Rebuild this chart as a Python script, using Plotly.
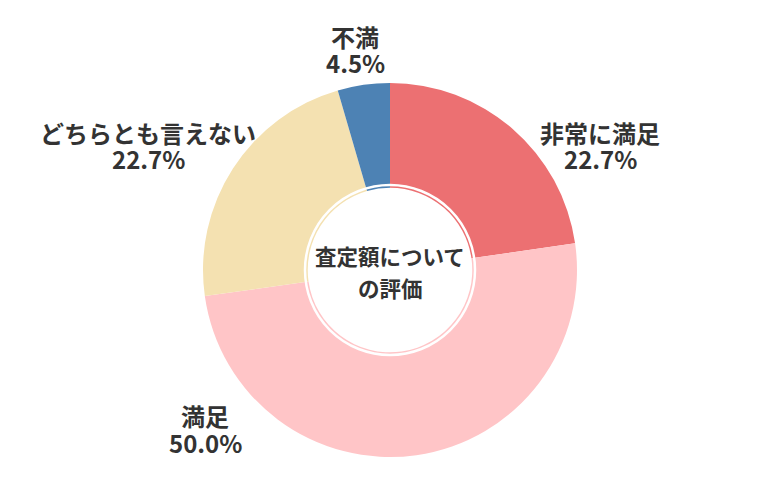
import plotly.graph_objects as go

categories = ["非常に満足", "満足", "どちらとも言えない", "不満"]
values = [22.7, 50.0, 22.7, 4.5]
colors = ["#EC7072", "#FFC5C7", "#F4E1B1", "#4D82B4"]
center_lines = ["査定額について", "の評価"]

W, H = 780, 500
CX, CY, R = 390, 270, 187

def px(x, y):
    return x / W, 1 - y / H

fig = go.Figure()
fig.add_trace(go.Pie(
    labels=categories,
    values=values,
    sort=False,
    direction="clockwise",
    rotation=0,
    hole=0.44,
    marker=dict(colors=colors, line=dict(width=0)),
    textinfo="none",
    hoverinfo="skip",
    showlegend=False,
    domain=dict(x=[(CX - R) / W, (CX + R) / W],
                y=[1 - (CY + R) / H, 1 - (CY - R) / H]),
))

# label anchor positions (pixel centres): name line, percent line
name_pos = [(600, 132), (205, 415), (148, 132), (355, 37)]
pct_pos = [(600, 158), (205, 442), (148, 158), (355, 62)]
font = dict(family="Noto Sans CJK JP", size=24, color="#333333")
annotations = []

def add_text(text, x, y, f):
    ax, ay = px(x, y)
    annotations.append(dict(
        x=ax, y=ay, xref="paper", yref="paper",
        text=f"<b>{text}</b>", showarrow=False,
        font=f, align="center", xanchor="center", yanchor="middle",
    ))

for name, v, (nx, ny), (qx, qy) in zip(categories, values, name_pos, pct_pos):
    add_text(name, nx, ny, font)
    add_text(f"{v:.1f}%", qx, qy, font)

cfont = dict(family="Noto Sans CJK JP", size=21.5, color="#333333")
add_text(center_lines[0], CX, 255, cfont)
add_text(center_lines[1], CX, 287, cfont)

rr = 85
shapes = [dict(
    type="circle", xref="paper", yref="paper",
    x0=(CX - rr) / W, x1=(CX + rr) / W,
    y0=1 - (CY + rr) / H, y1=1 - (CY - rr) / H,
    line=dict(color="white", width=2.5), fillcolor="rgba(0,0,0,0)",
)]

fig.update_layout(
    width=W, height=H,
    margin=dict(l=0, r=0, t=0, b=0),
    paper_bgcolor="white", plot_bgcolor="white",
    annotations=annotations, shapes=shapes,
)
fig.write_html("out.html")
